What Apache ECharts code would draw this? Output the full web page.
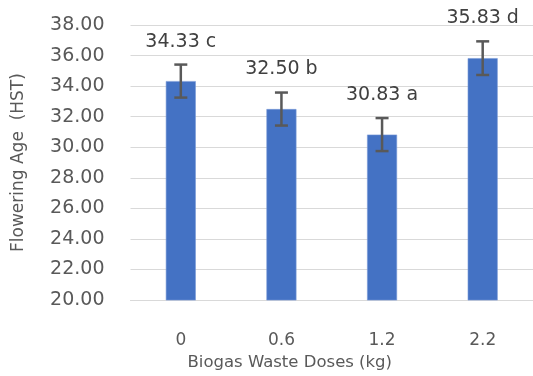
<!DOCTYPE html>
<html>
<head>
<meta charset="utf-8">
<script src="https://cdn.jsdelivr.net/npm/echarts@6/dist/echarts.min.js"></script>
<style>
html,body{margin:0;padding:0;background:#fff;}
#c{width:533px;height:376px;}
</style>
</head>
<body>
<div id="c"></div>
<script>
var categories = ['0', '0.6', '1.2', '2.2'];
var means = [34.33, 32.50, 30.83, 35.83];
var errors = [1.08, 1.08, 1.08, 1.1];
var letters = ['c', 'b', 'a', 'd'];
var yTicks = [20, 22, 24, 26, 28, 30, 32, 34, 36, 38];

var FONT = 'DejaVu Sans';
var chart = echarts.init(document.getElementById('c'), null, {renderer: 'canvas'});

var errData = means.map(function (m, i) { return [i, m - errors[i], m + errors[i], m, letters[i]]; });

chart.setOption({
  animation: false,
  grid: {left: 130.5, right: -1.5, top: 25, bottom: 71},
  xAxis: {
    type: 'category',
    data: categories,
    axisTick: {show: false},
    axisLine: {show: true, lineStyle: {color: '#d9d9d9', width: 1}},
    axisLabel: {color: '#595959', fontFamily: FONT, fontSize: 17, margin: 32},
    name: 'Biogas Waste Doses (kg)',
    nameLocation: 'middle',
    nameGap: 47,
    nameTextStyle: {color: '#595959', fontFamily: FONT, fontSize: 16.5, padding: [0, 84, 0, 0]}
  },
  yAxis: {
    type: 'value',
    min: yTicks[0],
    max: yTicks[yTicks.length - 1],
    interval: 2,
    axisLine: {show: false},
    axisTick: {show: false},
    splitLine: {lineStyle: {color: '#d9d9d9', width: 1}},
    axisLabel: {color: '#595959', fontFamily: FONT, fontSize: 19, margin: 26,
      formatter: function (v) { return v.toFixed(2); }},
    name: 'Flowering Age  (HST)',
    nameLocation: 'middle',
    nameGap: 103,
    nameTextStyle: {color: '#595959', fontFamily: FONT, fontSize: 17}
  },
  series: [
    {
      type: 'bar',
      data: means,
      barWidth: 30,
      itemStyle: {color: '#4472C4', borderColor: '#7b9ad6', borderWidth: 0.6}
    },
    {
      type: 'custom',
      data: errData,
      z: 10,
      renderItem: function (params, api) {
        var x = api.value(0);
        var lo = api.coord([x, api.value(1)]);
        var hi = api.coord([x, api.value(2)]);
        var hw = 6.5;
        var st = {stroke: '#595959', lineWidth: 2.5};
        return {
          type: 'group',
          children: [
            {type: 'line', shape: {x1: hi[0], y1: hi[1], x2: lo[0], y2: lo[1]}, style: st},
            {type: 'line', shape: {x1: hi[0] - hw, y1: hi[1], x2: hi[0] + hw, y2: hi[1]}, style: st},
            {type: 'line', shape: {x1: lo[0] - hw, y1: lo[1], x2: lo[0] + hw, y2: lo[1]}, style: st},
            {type: 'text', x: hi[0], y: hi[1] - 23,
              style: {text: api.value(3).toFixed(2) + ' ' + letters[params.dataIndex],
                fill: '#404040', font: '19px ' + FONT, align: 'center', verticalAlign: 'middle'}}
          ]
        };
      },
      encode: {x: 0, y: [1, 2]}
    }
  ]
});
</script>
</body>
</html>
